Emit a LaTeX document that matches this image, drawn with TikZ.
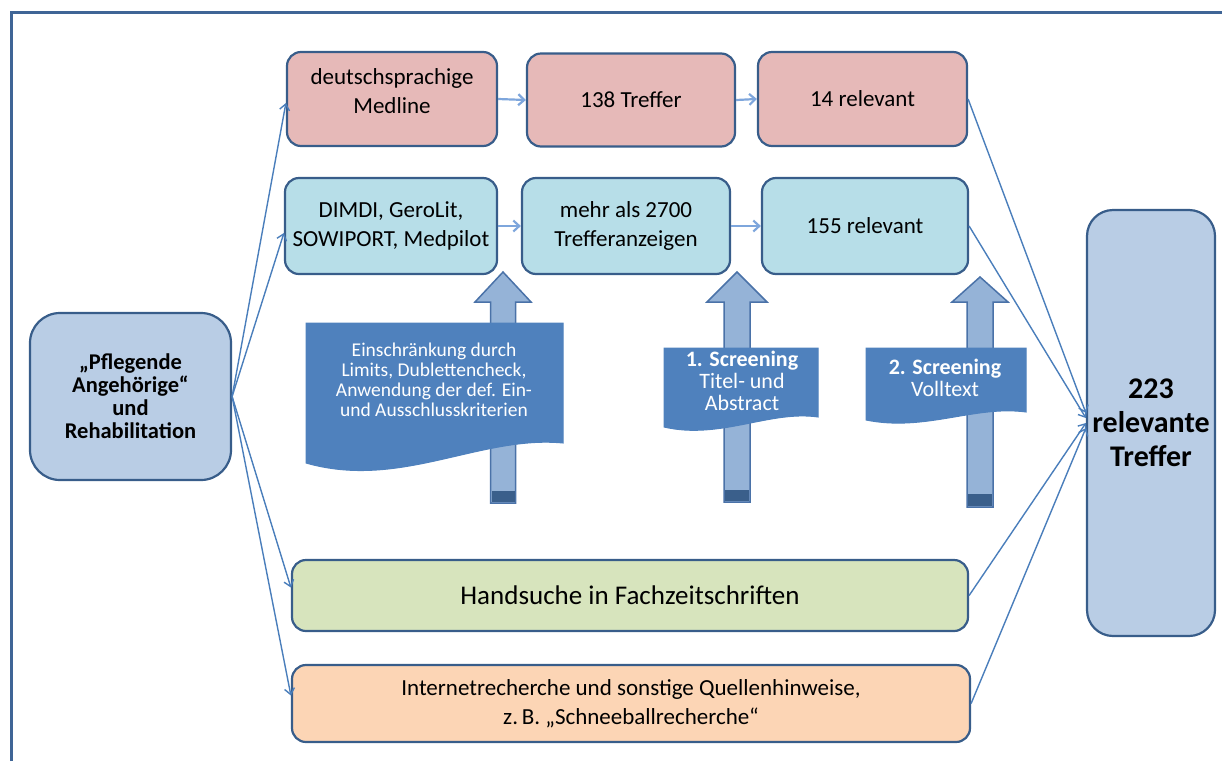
\documentclass[tikz,border=0pt]{standalone}
\usepackage{fontspec}
\setmainfont{Carlito}
\usetikzlibrary{arrows.meta}
\definecolor{bd}{HTML}{385D8A}
\definecolor{pinkf}{HTML}{E6B9B8}
\definecolor{cyanf}{HTML}{B7DEE8}
\definecolor{greenf}{HTML}{D7E4BD}
\definecolor{orangef}{HTML}{FCD5B5}
\definecolor{bluef}{HTML}{B9CDE5}
\definecolor{arrf}{HTML}{95B3D7}
\definecolor{arrd}{HTML}{4A72A8}
\definecolor{arrbase}{HTML}{3A5F8B}
\definecolor{docf}{HTML}{4F81BD}
\definecolor{lc}{HTML}{4A7EBB}
\definecolor{hc}{HTML}{7EA6DC}
\definecolor{framec}{HTML}{3F6596}
\begin{document}
\begin{tikzpicture}[x=1pt,y=-1pt,
  box/.style={draw=bd, line width=2.2pt, rounded corners=14pt, align=center, inner sep=0pt,
    font=\fontsize{23}{29}\selectfont},
  conn/.style={draw=lc, line width=1.4pt, -{Straight Barb[length=6pt,width=10pt]}},
  hconn/.style={draw=hc, line width=2.2pt, -{Straight Barb[length=6pt,width=11pt]}},
  blockarr/.style={fill=arrf, draw=arrd, line width=1.5pt, line join=miter},
  docshape/.style={fill=docf, draw=docf, line width=1pt},
  doctext/.style={text=white, align=center, inner sep=0pt}
]
\useasboundingbox (0,0) rectangle (1222,761);
% frame
\draw[framec, line width=3pt] (11,761) -- (11,12) -- (1222,12);

% boxes
\node[box, fill=pinkf, minimum width=210pt, minimum height=94pt, text depth=16pt] (med) at (392,99) {deutschsprachige\\Medline};
\node[box, fill=pinkf, minimum width=208pt, minimum height=93pt] (t138) at (631,100) {138 Treffer};
\node[box, fill=pinkf, minimum width=209pt, minimum height=94pt] (r14) at (862.5,99) {14 relevant};
\node[box, fill=cyanf, minimum width=212pt, minimum height=96pt] (dimdi) at (391,226) {DIMDI, GeroLit,\\SOWIPORT, Medpilot};
\node[box, fill=cyanf, minimum width=208pt, minimum height=96pt] (m2700) at (626,226) {mehr als 2700\\Trefferanzeigen};
\node[box, fill=cyanf, minimum width=206pt, minimum height=96pt] (r155) at (865,226) {155 relevant};
\node[box, fill=bluef, rounded corners=30pt, minimum width=201pt, minimum height=167pt,
  font=\fontsize{22.5}{23}\selectfont\bfseries] (pfl) at (130.5,396.5) {„Pflegende\\Angehörige“\\und\\Rehabilitation};
\node[box, fill=bluef, rounded corners=26pt, minimum width=128pt, minimum height=426pt,
  font=\fontsize{30}{34}\selectfont\bfseries] (res) at (1151,423) {223\\relevante\\Treffer};
\node[box, fill=greenf, minimum width=676pt, minimum height=71pt,
  font=\fontsize{27}{32}\selectfont] (hand) at (630,595.5) {Handsuche in Fachzeitschriften};
\node[box, fill=orangef, minimum width=678pt, minimum height=77pt] (inet) at (631,703.5)
  {Internetrecherche und sonstige Quellenhinweise,\\z.\,B. „Schneeballrecherche“};

% block arrows
\fill[blockarr] (490.5,503) -- (490.5,302) -- (475,302) -- (503,272) -- (531,302) -- (515.5,302) -- (515.5,503) -- cycle;
\fill[arrbase] (491.5,491) rectangle (514.5,502);
\fill[blockarr] (724,502) -- (724,302) -- (707,302) -- (737,272) -- (767,302) -- (750,302) -- (750,502) -- cycle;
\fill[arrbase] (725,490) rectangle (749,501);
\fill[blockarr] (967,507) -- (967,302) -- (952,302) -- (980,277) -- (1008,302) -- (993,302) -- (993,507) -- cycle;
\fill[arrbase] (968,494) rectangle (992,506);

% documents
\path[docshape] (306,323) -- (563,323) -- (563,443) .. controls (480,435) and (400,490) .. (306,463) -- cycle;
\path[docshape] (664,348) -- (818,348) -- (818,417) .. controls (770,410) and (720,440) .. (664,427) -- cycle;
\path[docshape] (866,348) -- (1026,348) -- (1026,412) .. controls (975,405) and (925,432) .. (866,420) -- cycle;
\node[doctext, font=\fontsize{19.5}{20}\selectfont] (d1t) at (434,380)
  {Einschränkung durch\\Limits, Dublettencheck,\\Anwendung der def. Ein-\\und Ausschlusskriterien};
\node[doctext, font=\fontsize{22}{22}\selectfont] (d2t) at (742,381)
  {\textbf{1. Screening}\\Titel- und\\Abstract};
\node[doctext, font=\fontsize{22}{22}\selectfont] (d3t) at (945,378)
  {\textbf{2. Screening}\\Volltext};

% horizontal connectors
\draw[hconn] (med.east) -- (t138.west);
\draw[hconn] (t138.east) -- (r14.west);
\draw[hconn] (dimdi.east) -- (m2700.west);
\draw[hconn] (m2700.east) -- (r155.west);

% connectors from source
\draw[conn] (pfl.east) -- ([yshift=-4pt]med.west);
\draw[conn] (pfl.east) -- ([yshift=-7pt]dimdi.west);
\draw[conn] (pfl.east) -- ([yshift=8pt]hand.west);
\draw[conn] (pfl.east) -- ([yshift=8pt]inet.west);

% connectors to result
\draw[conn] (r14.east) -- ([yshift=10pt]res.west);
\draw[conn] (r155.east) -- ([yshift=5pt]res.west);
\draw[conn] (hand.east) -- ([yshift=0pt]res.west);
\draw[conn] (inet.east) -- ([yshift=-5pt]res.west);
\end{tikzpicture}
\end{document}
